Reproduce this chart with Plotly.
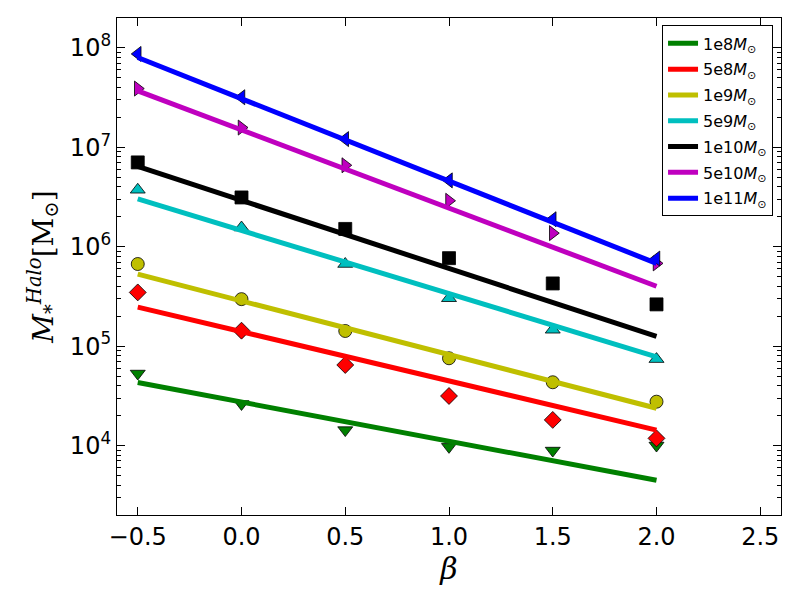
import plotly.graph_objects as go

# beta values of the runs
beta = [-0.5, 0.0, 0.5, 1.0, 1.5, 2.0]
fit_beta = [-0.5, 2.0]

# halo masses (legend labels)
labels = ["1e8", "5e8", "1e9", "5e9", "1e10", "5e10", "1e11"]

# measured stellar halo mass per run
m_1e8 = [5.3e4, 2.62e4, 1.43e4, 9.7e3, 8.9e3, 1.0e4]
m_5e8 = [3.47e5, 1.43e5, 6.46e4, 3.15e4, 1.81e4, 1.18e4]
m_1e9 = [6.7e5, 2.97e5, 1.42e5, 7.55e4, 4.33e4, 2.76e4]
m_5e9 = [3.74e6, 1.56e6, 6.7e5, 3.03e5, 1.46e5, 7.4e4]
m_1e10 = [7.05e6, 3.13e6, 1.51e6, 7.67e5, 4.27e5, 2.63e5]
m_5e10 = [3.9e7, 1.58e7, 6.6e6, 2.9e6, 1.37e6, 6.8e5]
m_1e11 = [8.7e7, 3.19e7, 1.21e7, 4.65e6, 1.89e6, 7.6e5]

# model lines (values at beta = -0.5 and 2.0)
fit_1e8 = [4.3e4, 4.47e3]
fit_5e8 = [2.47e5, 1.43e4]
fit_1e9 = [5.3e5, 2.37e4]
fit_5e9 = [3.03e6, 7.8e4]
fit_1e10 = [6.43e6, 1.25e5]
fit_5e10 = [3.7e7, 4.0e5]
fit_1e11 = [8.0e7, 6.8e5]

points = [m_1e8, m_5e8, m_1e9, m_5e9, m_1e10, m_5e10, m_1e11]
fits = [fit_1e8, fit_5e8, fit_1e9, fit_5e9, fit_1e10, fit_5e10, fit_1e11]
colors = ["#008000", "#ff0000", "#bfbf00", "#00bfbf", "#000000", "#bf00bf", "#0000ff"]
symbols = ["triangle-down", "diamond", "circle", "triangle-up", "square",
           "triangle-right", "triangle-left"]

fig = go.Figure()
for lab, pts, ft, col, sym in zip(labels, points, fits, colors, symbols):
    fig.add_trace(go.Scatter(
        x=beta, y=pts, mode="markers", showlegend=False,
        marker=dict(symbol=sym, size=13, color=col,
                    line=dict(color="black", width=0.8))))
    fig.add_trace(go.Scatter(
        x=fit_beta, y=ft, mode="lines", name=lab + "<i>M</i><sub>⊙</sub>",
        legendgroup=lab, line=dict(color=col, width=5)))

font = "DejaVu Sans"
axis = dict(showline=True, linecolor="black", linewidth=1.2, mirror="ticks",
            ticks="inside", ticklen=8, tickcolor="black", showgrid=False,
            zeroline=False, automargin=False,
            tickfont=dict(family=font, size=24, color="black"))

fig.update_xaxes(axis, range=[-0.6, 2.6], tickvals=[-0.5, 0, 0.5, 1.0, 1.5, 2.0, 2.5],
                 ticktext=["−0.5", "0.0", "0.5", "1.0", "1.5", "2.0", "2.5"],
                 title=dict(text="<i>β</i>", font=dict(family="DejaVu Serif", size=30),
                            standoff=0))
fig.update_yaxes(axis, type="log", range=[3.301, 8.301],
                 tickvals=[1e4, 1e5, 1e6, 1e7, 1e8],
                 ticktext=["10<sup>4</sup>", "10<sup>5</sup>", "10<sup>6</sup>",
                           "10<sup>7</sup>", "10<sup>8</sup>"],
                 minor=dict(ticks="inside", ticklen=4, tickcolor="black", dtick="D1"),
                 title=dict(text="<i>M</i><sub>*</sub><sup><i>Halo</i></sup>[M<sub>⊙</sub>]",
                            font=dict(family="DejaVu Serif", size=28), standoff=8))

# the page body adds an 8px offset, so margins are shifted to compensate
fig.update_layout(
    width=800, height=600,
    margin=dict(l=109, r=27, t=10, b=93),
    plot_bgcolor="white", paper_bgcolor="white",
    font=dict(family=font, color="black"),
    legend=dict(x=0.988, y=0.985, xanchor="right", yanchor="top",
                bgcolor="white", bordercolor="black", borderwidth=1,
                font=dict(family=font, size=16), tracegroupgap=2,
                traceorder="grouped"),
)

fig.write_html("out.html")
